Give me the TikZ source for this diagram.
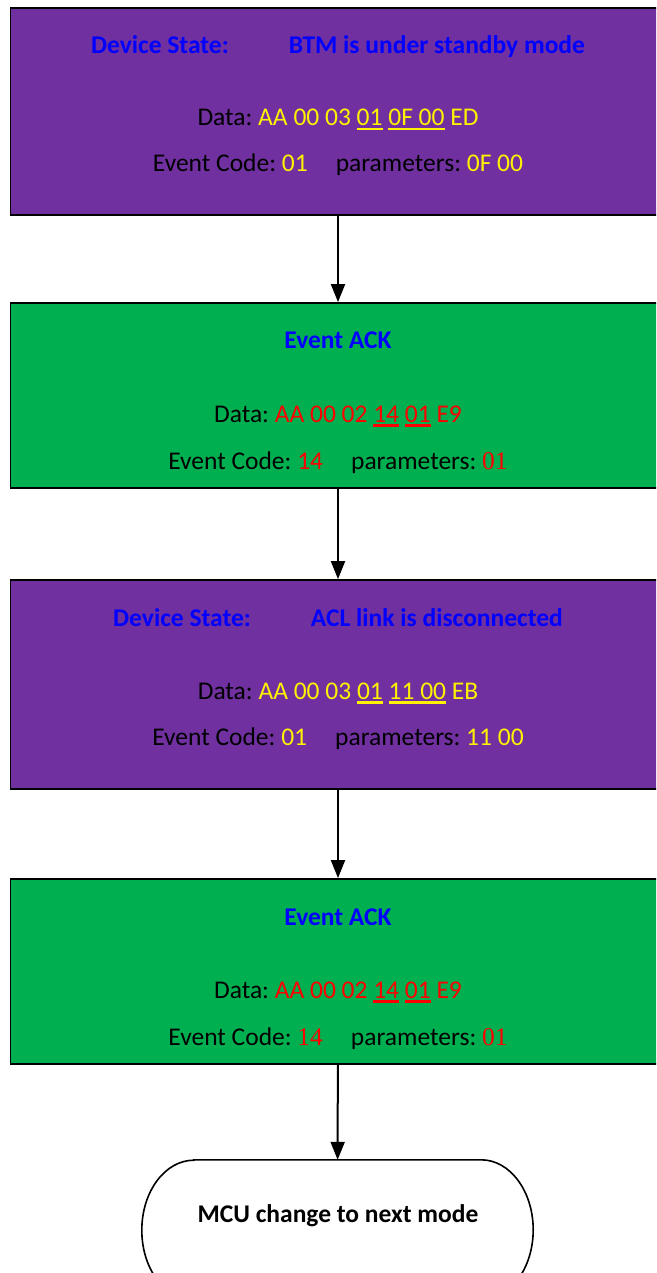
\documentclass[tikz,border=0pt]{standalone}
\usepackage{fontspec}
\setmainfont{Carlito}
\newfontfamily\timesdigits{Liberation Serif}
\usetikzlibrary{arrows.meta}
\definecolor{statePurple}{HTML}{7030A0}
\definecolor{ackGreen}{HTML}{00B050}
\colorlet{titleBlue}{blue}
\colorlet{stateValue}{yellow}
\colorlet{ackValue}{red}
\frenchspacing
\newcommand{\ulined}[1]{\setbox0\hbox{#1}\rlap{\rule[-4.5pt]{\wd0}{2.6pt}}\box0\relax}

\begin{document}
\begin{tikzpicture}[
  x=1pt, y=-1pt,
  state box/.style={
    draw=black, line width=1.8pt, fill=statePurple,
    minimum width=655pt, minimum height=207pt, inner sep=0pt
  },
  ack box/.style={
    state box, fill=ackGreen, minimum height=185pt
  },
  line text/.style={
    anchor=base, inner sep=0pt,
    font=\fontsize{25.5}{30}\selectfont
  },
  title text/.style={
    line text, text=titleBlue,
    font=\fontsize{25.5}{30}\selectfont\bfseries
  },
  flow arrow/.style={
    line width=2pt,
    -{Triangle[width=14pt,length=18pt]}
  }
]
\clip (0,0) rectangle (656,1273);
\node[state box] (standby) at (338,111.5) {};
\node[title text] (standby title) at (338,54) {Device State:\hspace{60pt}BTM is under standby mode};
\node[line text] (standby data) at (338,126) {Data: \color{stateValue}AA 00 03 \ulined{01} \ulined{0F 00} ED};
\node[line text] (standby code) at (338,172) {Event Code: {\color{stateValue}01}\hspace{28pt}parameters: {\color{stateValue}0F 00}};
\node[ack box] (ack one) at (338,395.5) {};
\node[title text] (ack one title) at (338,348) {Event ACK};
\node[line text] (ack one data) at (338,422) {Data: \color{ackValue}AA 00 02 \ulined{14} \ulined{01} E9};
\node[line text] (ack one code) at (338,469) {Event Code: {\color{ackValue}14}\hspace{28pt}parameters: {\color{ackValue}\timesdigits 01}};
\node[state box, minimum height=209pt] (discon) at (338,684.5) {};
\node[title text] (discon title) at (338,626) {Device State:\hspace{60pt}ACL link is disconnected};
\node[line text] (discon data) at (338,699) {Data: \color{stateValue}AA 00 03 \ulined{01} \ulined{11 00} EB};
\node[line text] (discon code) at (338,745) {Event Code: {\color{stateValue}01}\hspace{28pt}parameters: {\color{stateValue}11 00}};
\node[ack box] (ack two) at (338,971.5) {};
\node[title text] (ack two title) at (338,925) {Event ACK};
\node[line text] (ack two data) at (338,998) {Data: \color{ackValue}AA 00 02 \ulined{14} \ulined{01} E9};
\node[line text] (ack two code) at (338,1045) {Event Code: {\color{ackValue}\timesdigits 14}\hspace{28pt}parameters: {\color{ackValue}\timesdigits 01}};
\node[minimum width=391pt, minimum height=140pt, inner sep=0pt] (next mode) at (337.5,1230) {};
\draw[line width=1.6pt]
  ([xshift=52pt]next mode.north west) -- ([xshift=-52pt]next mode.north east)
  arc[start angle=90, end angle=-90, x radius=52pt, y radius=70pt]
  -- ([xshift=52pt]next mode.south west)
  arc[start angle=270, end angle=90, x radius=52pt, y radius=70pt] -- cycle;
\node[title text, text=black] (next mode text) at (338,1222) {MCU change to next mode};
\draw[flow arrow] (standby) -- (ack one);
\draw[flow arrow] (ack one) -- (discon);
\draw[flow arrow] (discon) -- (ack two);
\draw[flow arrow] (ack two) -- (next mode);
\end{tikzpicture}
\end{document}
